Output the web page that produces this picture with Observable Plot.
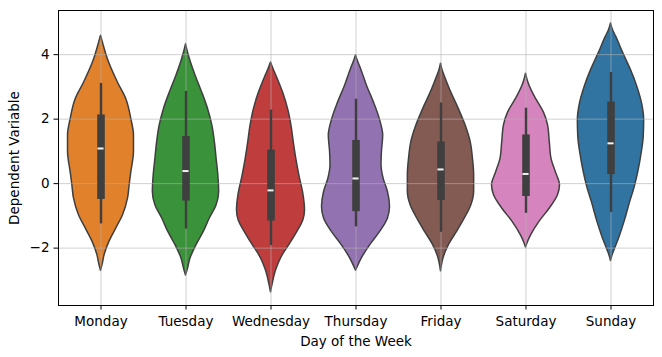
<!DOCTYPE html>
<html>
<head>
<meta charset="utf-8">
<script src="https://cdn.jsdelivr.net/npm/d3@7"></script>
<script src="https://cdn.jsdelivr.net/npm/@observablehq/plot@0.6"></script>
<style>
  html, body { margin: 0; padding: 0; background: white; }
</style>
</head>
<body>
<div id="chart"></div>
<script>
// Categories and colours
const days = ["Monday", "Tuesday", "Wednesday", "Thursday", "Friday", "Saturday", "Sunday"];
const colors = ["#e1812c", "#3a923a", "#c03d3e", "#9372b2", "#845b53", "#d684bd", "#3274a1"];
const yTicks = [-2, 0, 2, 4];

// Violin outlines: [value, half-width in category units]
const monday = [[4.59,0],[4.35,0.025],[3.85,0.082],[3.13,0.2],[2.62,0.298],[2.0,0.357],[1.49,0.388],[0.98,0.388],[0.36,0.357],[-0.05,0.337],[-0.46,0.318],[-0.98,0.259],[-1.39,0.18],[-1.80,0.10],[-2.21,0.043],[-2.50,0.02],[-2.70,0]];
const tuesday = [[4.32,0],[4.05,0.025],[3.85,0.047],[3.34,0.114],[2.83,0.19],[2.31,0.26],[1.80,0.31],[1.28,0.34],[0.77,0.36],[0.26,0.38],[-0.26,0.39],[-0.67,0.36],[-1.08,0.28],[-1.49,0.21],[-1.90,0.125],[-2.31,0.055],[-2.67,0.02],[-2.85,0]];
const wednesday = [[3.76,0],[3.55,0.03],[3.32,0.067],[2.80,0.145],[2.28,0.204],[1.76,0.243],[1.24,0.27],[0.73,0.30],[0.21,0.337],[-0.31,0.38],[-0.83,0.40],[-1.14,0.38],[-1.45,0.32],[-1.87,0.224],[-2.28,0.125],[-2.69,0.06],[-3.11,0.02],[-3.37,0]];
const thursday = [[3.98,0],[3.78,0.025],[3.55,0.06],[3.03,0.13],[2.52,0.21],[2.0,0.28],[1.49,0.32],[0.98,0.305],[0.57,0.30],[0.15,0.325],[-0.26,0.376],[-0.72,0.40],[-1.08,0.376],[-1.49,0.286],[-1.90,0.17],[-2.31,0.07],[-2.55,0.025],[-2.70,0]];
const friday = [[3.72,0],[3.5,0.02],[3.34,0.043],[2.83,0.12],[2.31,0.21],[1.80,0.29],[1.28,0.35],[0.77,0.376],[0.26,0.39],[-0.26,0.39],[-0.67,0.357],[-1.08,0.28],[-1.49,0.19],[-1.90,0.094],[-2.31,0.03],[-2.55,0.01],[-2.72,0]];
const saturday = [[3.41,0],[3.2,0.02],[3.03,0.043],[2.62,0.12],[2.21,0.21],[1.80,0.26],[1.28,0.28],[0.77,0.30],[0.36,0.35],[-0.05,0.40],[-0.36,0.376],[-0.77,0.28],[-1.18,0.16],[-1.59,0.063],[-1.80,0.025],[-1.98,0]];
const sunday = [[4.97,0],[4.75,0.025],[4.56,0.06],[4.04,0.145],[3.52,0.235],[3.0,0.31],[2.49,0.365],[1.97,0.39],[1.45,0.385],[0.93,0.36],[0.41,0.325],[-0.10,0.28],[-0.62,0.22],[-1.14,0.165],[-1.66,0.10],[-2.07,0.04],[-2.25,0.015],[-2.40,0]];

// Inner box statistics
const whiskerHigh = [3.11, 2.86, 2.28, 2.62, 2.50, 2.34, 3.45];
const whiskerLow  = [-1.25, -1.41, -1.92, -1.34, -1.51, -0.92, -0.90];
const q3     = [2.13, 1.46, 1.04, 1.34, 1.29, 1.51, 2.53];
const q1     = [-0.49, -0.54, -1.16, -0.87, -0.52, -0.40, 0.28];
const median = [1.09, 0.39, -0.21, 0.16, 0.44, 0.30, 1.25];

const profiles = [monday, tuesday, wednesday, thursday, friday, saturday, sunday];
const rows = profiles.flatMap((p, i) => p.map(([v, hw]) => ({day: days[i], i, v, hw})));
const stats = days.map((day, i) => ({day, i, lo: whiskerLow[i], hi: whiskerHigh[i], q1: q1[i], q3: q3[i], med: median[i]}));

const ink = "#3f3f3f";
const chart = Plot.plot({
  width: 662,
  height: 357,
  marginLeft: 58,
  marginRight: 9,
  marginTop: 10,
  marginBottom: 52,
  style: {fontFamily: "DejaVu Sans", fontSize: "13px", background: "white", color: "black"},
  x: {domain: [-0.5, 6.5]},
  y: {domain: [-3.78, 5.37]},
  color: {type: "ordinal", domain: days, range: colors},
  marks: [
    Plot.areaX(rows, {
      y: "v",
      x1: d => d.i - d.hw,
      x2: d => d.i + d.hw,
      z: "day",
      fill: "day",
      stroke: ink,
      strokeWidth: 1.5,
      curve: "monotone-y"
    }),
    Plot.gridX({ticks: d3.range(7), stroke: "#b0b0b0", strokeOpacity: 0.6, strokeWidth: 1}),
    Plot.gridY({ticks: yTicks, stroke: "#b0b0b0", strokeOpacity: 0.6, strokeWidth: 1}),
    Plot.ruleX(stats, {x: "i", y1: "lo", y2: "hi", stroke: ink, strokeWidth: 2.4}),
    Plot.ruleX(stats, {x: "i", y1: "q1", y2: "q3", stroke: ink, strokeWidth: 7.6}),
    Plot.ruleY(stats, {y: "med", x1: d => d.i - 0.036, x2: d => d.i + 0.036, stroke: "#f2f2f2", strokeWidth: 2}),
    Plot.frame({stroke: "black", strokeWidth: 1}),
    Plot.axisX({
      ticks: d3.range(7),
      tickFormat: i => days[i],
      tickSize: 4.5,
      tickPadding: 6.5,
      fontSize: 13.5,
      label: "Day of the Week",
      labelAnchor: "center",
      labelArrow: "none",
      labelOffset: 40
    }),
    Plot.axisY({
      ticks: yTicks,
      tickSize: 4.5,
      tickPadding: 4.5,
      fontSize: 13.5,
      label: "Dependent Variable",
      labelAnchor: "center",
      labelArrow: "none",
      labelOffset: 49
    })
  ]
});
document.getElementById("chart").appendChild(chart);
</script>
</body>
</html>
